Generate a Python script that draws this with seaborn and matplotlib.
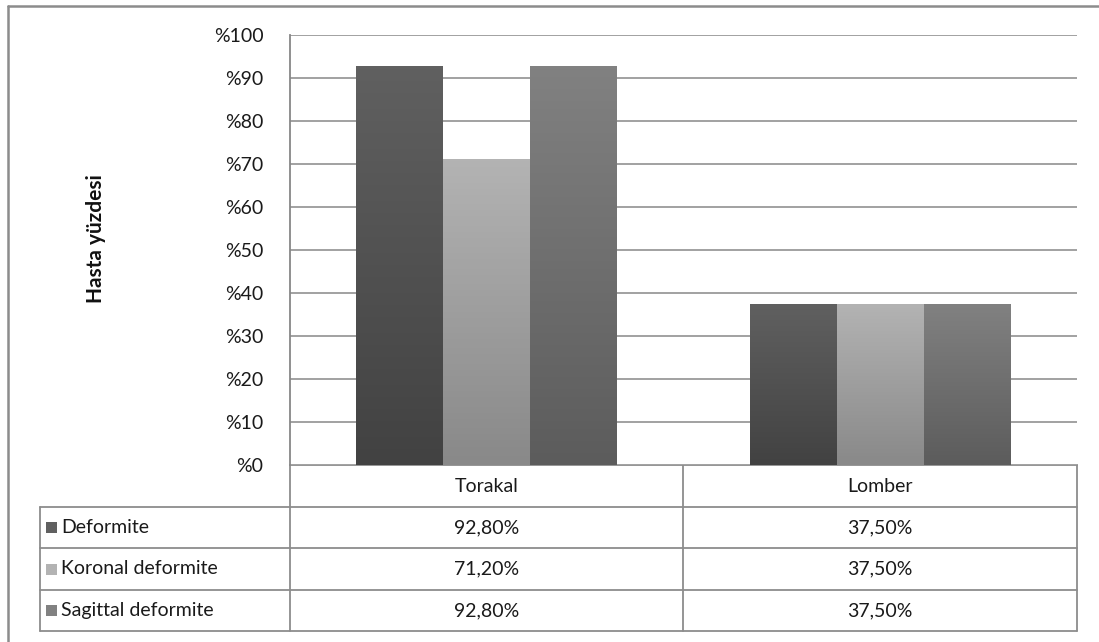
import matplotlib
matplotlib.use("Agg")
import matplotlib.pyplot as plt
import seaborn as sns
import numpy as np
import pandas as pd
from matplotlib.colors import LinearSegmentedColormap
from matplotlib.lines import Line2D

# data
categories = ["Torakal", "Lomber"]
series = ["Deformite", "Koronal deformite", "Sagittal deformite"]
deformite = [92.8, 37.5]
koronal = [71.2, 37.5]
sagittal = [92.8, 37.5]
yticks = [0, 10, 20, 30, 40, 50, 60, 70, 80, 90, 100]

# (top, bottom) gradient colours for each series
grad = {"Deformite": ("#606060", "#424242"),
        "Koronal deformite": ("#b3b3b3", "#898989"),
        "Sagittal deformite": ("#818181", "#5c5c5c")}

df = pd.DataFrame({"kat": categories * 3,
                   "seri": [s for s in series for _ in categories],
                   "deger": deformite + koronal + sagittal})

sns.set_style("white")
plt.rcParams['font.family'] = ['Lato', 'DejaVu Sans']

W, H = 1099, 642
fig = plt.figure(figsize=(W / 100, H / 100), dpi=100)
x0, x1, y0, y1 = 290, 1077, 35, 465
ax = fig.add_axes([x0 / W, 1 - y1 / H, (x1 - x0) / W, (y1 - y0) / H])

sns.barplot(data=df, x="kat", y="deger", hue="seri", hue_order=series,
            order=categories, width=0.663, palette=[grad[s][1] for s in series],
            ax=ax, legend=False, zorder=3)

# gradient fill for each bar (Excel look)
for cont, s in zip(ax.containers, series):
    cmap = LinearSegmentedColormap.from_list(s, [grad[s][1], grad[s][0]])
    for p in cont:
        bx, by = p.get_x(), p.get_y()
        bw, bh = p.get_width(), p.get_height()
        g = np.linspace(0, 1, 100).reshape(-1, 1)
        im = ax.imshow(g, cmap=cmap, origin="lower", aspect="auto",
                       extent=[bx, bx + bw, by, by + bh], zorder=4)
        im.set_clip_path(p)
        p.set_edgecolor("none")

fs = 14
ax.set_xlim(-0.5, 1.5)
ax.set_ylim(0, 100)
ax.set_yticks(yticks)
ax.set_yticklabels(["%" + str(t) for t in yticks], fontsize=fs, color="#1a1a1a")
ax.set_xticks([])
ax.set_xlabel("")
ax.set_ylabel("")
ax.tick_params(axis="y", length=0, pad=19)
ax.grid(axis="y", color="#878787", linewidth=1.1, zorder=0)
for side in ["top", "right", "bottom"]:
    ax.spines[side].set_visible(False)
ax.spines["left"].set_color("#878787")
ax.spines["left"].set_linewidth(1.3)

# overlay in pixel coordinates for the data table and frame
ov = fig.add_axes([0, 0, 1, 1], zorder=-1)
ov.set_xlim(0, W)
ov.set_ylim(H, 0)
ov.axis("off")

lc = "#8c8c8c"
def line(xs, ys, lw=1.3):
    ov.add_line(Line2D(xs, ys, color=lc, linewidth=lw))

# outer chart frame (only left and top inside the picture)
line([8, 8], [6, H + 5], lw=1.8)
line([8, W + 5], [6, 6], lw=1.8)

rows = [465, 507, 548, 590, 631]
cols = [290, 683, 1077]
tx = 40
line([x0, x1], [rows[0], rows[0]])
for r in rows[1:]:
    line([tx, x1], [r, r])
for c in cols:
    line([c, c], [rows[0], rows[-1]])
line([tx, tx], [rows[1], rows[-1]])

for i, k in enumerate(categories):
    ov.text((cols[i] + cols[i + 1]) / 2, (rows[0] + rows[1]) / 2, k,
            ha="center", va="center", fontsize=fs, color="#1a1a1a")

vals = [deformite, koronal, sagittal]
for j, s in enumerate(series):
    yc = (rows[j + 1] + rows[j + 2]) / 2
    ov.add_patch(plt.Rectangle((46, yc - 5.5), 11, 11, color=grad[s][0], linewidth=0))
    ov.text(61, yc, s, ha="left", va="center", fontsize=fs, color="#1a1a1a")
    for i in range(len(categories)):
        t = f"{vals[j][i]:.2f}%".replace(".", ",")
        ov.text((cols[i] + cols[i + 1]) / 2, yc, t, ha="center", va="center",
                fontsize=fs, color="#1a1a1a")

fig.text(96 / W, 1 - 239 / H, "Hasta yüzdesi", rotation=90, ha="center", va="center",
         fontsize=15, fontweight="bold", color="#111111")

fig.savefig("out.png", dpi=100)
